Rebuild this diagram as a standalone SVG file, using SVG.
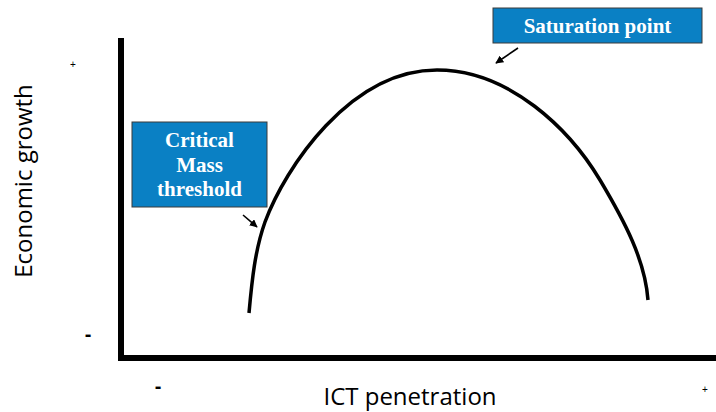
<svg xmlns="http://www.w3.org/2000/svg" width="716" height="412" viewBox="0 0 716 412">
<defs>
<style>
.box{fill:#0a80c4;stroke:#3a3a3a;stroke-width:1}
.bt{font-family:"Liberation Serif",serif;font-weight:bold;font-size:21px;fill:#fff;text-anchor:middle}
.ax{font-family:"Open Sans","Liberation Sans",sans-serif;font-size:24px;fill:#000}
.sm{font-family:"Liberation Sans",sans-serif;fill:#000}
.arr{stroke:#000;stroke-width:1.6;fill:none;marker-end:url(#ah)}
</style>
<marker id="ah" viewBox="0 0 10 10" refX="9" refY="5" markerWidth="5" markerHeight="5" orient="auto">
<path d="M0,0 L10,5 L0,10 z" fill="#000"/>
</marker>
</defs>
<rect width="716" height="412" fill="#fff"/>
<g id="axes">
<path d="M121,38 V358 H716" fill="none" stroke="#000" stroke-width="6"/>
</g>
<g id="curve">
<path d="M249,313 C252,280 255,250 265,222 C285,168 350,70 437,70 C510,70 570,130 600,180 C625,222 645,260 648,300" fill="none" stroke="#000" stroke-width="3.5"/>
</g>
<g id="critical-mass">
<rect class="box" x="132" y="122" width="135" height="85"/>
<text class="bt" x="199.5" y="147">Critical</text>
<text class="bt" x="199.5" y="172">Mass</text>
<text class="bt" x="199.5" y="196">threshold</text>
</g>
<g id="saturation">
<rect class="box" x="493" y="8" width="209" height="35"/>
<text class="bt" x="597.5" y="33">Saturation point</text>
</g>
<g id="connectors">
<line class="arr" x1="243" y1="215" x2="257" y2="227"/>
<line class="arr" x1="518" y1="48" x2="496" y2="63"/>
</g>
<g id="labels">
<text class="ax" transform="translate(32,181) rotate(-90)" text-anchor="middle">Economic growth</text>
<text class="ax" x="410" y="405" text-anchor="middle">ICT penetration</text>
<text class="sm" x="73" y="68" font-size="10" text-anchor="middle">+</text>
<text class="sm" x="88" y="341" font-size="20" font-weight="bold" text-anchor="middle">-</text>
<text class="sm" x="158" y="393" font-size="20" font-weight="bold" text-anchor="middle">-</text>
<text class="sm" x="705" y="393" font-size="10" text-anchor="middle">+</text>
</g>
</svg>
